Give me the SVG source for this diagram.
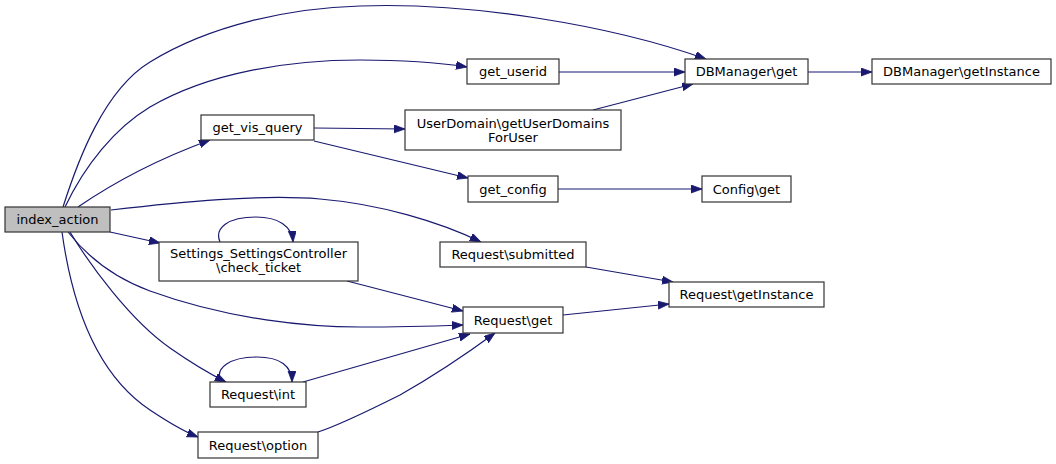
<svg xmlns="http://www.w3.org/2000/svg" width="1056" height="464" viewBox="0 0 1056 464">
<style>
.n rect{fill:#fff;stroke:#333;stroke-width:1.2}
.n text{font-family:"DejaVu Sans",sans-serif;font-size:13px;text-anchor:middle;fill:#000}
#edges path{fill:none;stroke:#191970;stroke-width:1.2}
</style>
<defs>
<marker id="ah" markerUnits="userSpaceOnUse" markerWidth="12" markerHeight="9" refX="11" refY="4" orient="auto">
<path d="M0,0 L11,4 L0,8 z" fill="#191970" stroke="#191970" stroke-width="0.8"/>
</marker>
</defs>
<rect width="1056" height="464" fill="#fff"/>
<g id="edges">
<path marker-end="url(#ah)" d="M63,207 C78,160 104,90 150,62 C210,25 290,8 360,6 C470,2 610,25 706,59"/>
<path marker-end="url(#ah)" d="M65,207 C85,165 115,128 150,107 C210,72 290,60 360,60 C400,60 435,62 467,67"/>
<path marker-end="url(#ah)" d="M78,207 C110,185 150,162 210,140"/>
<path marker-end="url(#ah)" d="M111,210 C180,202 260,194 320,199 C380,204 440,222 481,242"/>
<path marker-end="url(#ah)" d="M110,232 L160,243"/>
<path marker-end="url(#ah)" d="M220,242 C214,228 228,217 256,217 C278,217 292,226 293,242"/>
<path marker-end="url(#ah)" d="M68,232 C90,260 120,280 150,291 C230,320 310,327 360,327 C400,327 435,326 463,325"/>
<path marker-end="url(#ah)" d="M347,281 L463,311"/>
<path marker-end="url(#ah)" d="M70,232 C90,265 130,320 170,348 C190,362 208,373 226,382"/>
<path marker-end="url(#ah)" d="M221,382 C214,368 230,357 257,357 C280,357 292,366 292,382"/>
<path marker-end="url(#ah)" d="M303,382 L470,334"/>
<path marker-end="url(#ah)" d="M62,232 C70,290 90,370 150,410 C165,420 180,430 198,437"/>
<path marker-end="url(#ah)" d="M318,432 C340,425 370,410 400,395 C430,378 465,355 495,333"/>
<path marker-end="url(#ah)" d="M314,128 L405,129"/>
<path marker-end="url(#ah)" d="M314,141 L468,178"/>
<path marker-end="url(#ah)" d="M559,72 L685,72"/>
<path marker-end="url(#ah)" d="M593,110 L693,84"/>
<path marker-end="url(#ah)" d="M808,72 L872,72"/>
<path marker-end="url(#ah)" d="M558,189 L702,189"/>
<path marker-end="url(#ah)" d="M586,267 L673,282"/>
<path marker-end="url(#ah)" d="M563,315 L669,304"/>
</g>
<g id="index_action" class="n"><rect x="5" y="207" width="105" height="25" style="fill:#bfbfbf"/><text x="57.5" y="224">index_action</text></g>
<g id="get_vis_query" class="n"><rect x="201" y="115" width="113" height="25"/><text x="257.5" y="132">get_vis_query</text></g>
<g id="get_userid" class="n"><rect x="467" y="59" width="92" height="25"/><text x="513" y="76">get_userid</text></g>
<g id="DBManager_get" class="n"><rect x="685" y="59" width="123" height="25"/><text x="746.5" y="76">DBManager\get</text></g>
<g id="DBManager_getInstance" class="n"><rect x="872" y="59" width="179" height="25"/><text x="961.5" y="76">DBManager\getInstance</text></g>
<g id="UserDomain_getUserDomainsForUser" class="n"><rect x="405" y="110" width="216" height="40"/><text x="513" y="127.5">UserDomain\getUserDomains</text><text x="513" y="141.5">ForUser</text></g>
<g id="get_config" class="n"><rect x="468" y="176" width="90" height="26"/><text x="513" y="193.5">get_config</text></g>
<g id="Config_get" class="n"><rect x="702" y="176" width="89" height="26"/><text x="746.5" y="193.5">Config\get</text></g>
<g id="Request_submitted" class="n"><rect x="440" y="242" width="146" height="25"/><text x="513" y="259">Request\submitted</text></g>
<g id="Request_getInstance" class="n"><rect x="669" y="282" width="155" height="25"/><text x="746.5" y="299">Request\getInstance</text></g>
<g id="Request_get" class="n"><rect x="463" y="307" width="100" height="26"/><text x="513" y="324.5">Request\get</text></g>
<g id="check_ticket" class="n"><rect x="159" y="242" width="199" height="39"/><text x="258.5" y="257.5">Settings_SettingsController</text><text x="258.5" y="271.5">\check_ticket</text></g>
<g id="Request_int" class="n"><rect x="210" y="382" width="96" height="25"/><text x="258" y="399">Request\int</text></g>
<g id="Request_option" class="n"><rect x="198" y="432" width="120" height="26"/><text x="258" y="449.5">Request\option</text></g>
</svg>
